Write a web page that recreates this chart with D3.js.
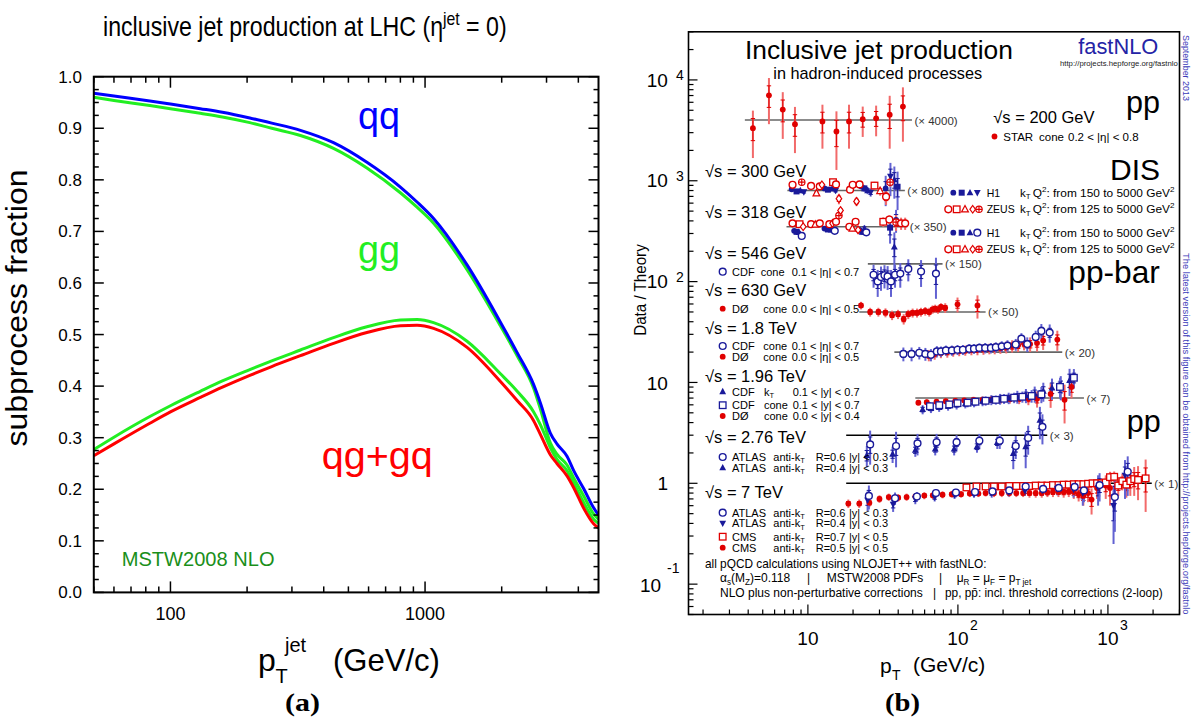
<!DOCTYPE html>
<html><head><meta charset="utf-8">
<script src="https://cdn.jsdelivr.net/npm/d3@7"></script>
<style>
body{margin:0;background:#fff}
svg{display:block}
text{font-family:"Liberation Sans",Arial,Helvetica,sans-serif}
</style>
</head><body>
<svg id="chart" width="1194" height="727"></svg>
<script>
// ================= LEFT PANEL DATA (subprocess fractions, LHC, eta=0) =================
const ptJet        = [50,60,83,100,131,160,205,250,324,437,591,800,930,1080,1462,1977,2300,2670,2840,3104,3296,3610,3836,4200,4592,4800];
const curveQQ      = [0.968,0.9625,0.953,0.947,0.938,0.931,0.920,0.910,0.896,0.872,0.834,0.786,0.757,0.725,0.635,0.524,0.465,0.403,0.367,0.309,0.288,0.264,0.236,0.201,0.164,0.150];
const curveGGtop   = [0.960,0.954,0.944,0.938,0.929,0.922,0.911,0.900,0.886,0.861,0.823,0.775,0.747,0.716,0.626,0.517,0.459,0.396,0.355,0.290,0.268,0.247,0.222,0.187,0.152,0.142];
const curveGGlow   = [0.277,0.301,0.341,0.362,0.390,0.410,0.432,0.449,0.470,0.494,0.515,0.528,0.529,0.523,0.487,0.424,0.390,0.350,0.325,0.281,0.258,0.236,0.212,0.174,0.142,0.134];
const curveQG      = [0.265,0.288,0.328,0.350,0.378,0.398,0.421,0.438,0.459,0.483,0.504,0.517,0.518,0.512,0.475,0.409,0.372,0.333,0.306,0.267,0.250,0.226,0.203,0.163,0.133,0.125];
const leftYTicks   = [0,0.1,0.2,0.3,0.4,0.5,0.6,0.7,0.8,0.9,1.0];
const leftXLabels  = [100,1000];

// ================= RIGHT PANEL DATA: [pT, data/theory, total error, (bin)] =================
const star200 = [[4.3,0.83,0.41],[5.5,1.76,0.85],[6.8,1.27,0.62],[8.2,0.91,0.44],[12.5,0.97,0.45],[15.5,0.77,0.45],[18.8,0.97,0.45],[23.2,1.02,0.34],[28.5,1.04,0.35],[35.1,1.13,0.61],[43.0,1.36,0.75]];
const h1dis300 = [[7.8,1.03,0.04,0],[8.4,0.98,0.04,1],[8.9,1.0,0.04,2],[9.4,0.97,0.05,3],[12.9,1.05,0.05,0],[13.6,1.02,0.05,1],[14.5,1.04,0.05,2],[15.3,1.0,0.06,3],[22.6,1.1,0.07,0],[23.8,1.05,0.08,1],[25.0,1.0,0.08,2],[26.2,0.96,0.09,3],[33.0,1.05,0.35,0],[35.5,1.38,0.5,3],[37.7,1.28,0.45,2],[39.6,1.09,0.45,1]];
const zeusDis300 = [[7.9,1.14,0.05,0],[9.1,1.21,0.1,4],[10.5,1.11,0.05,0],[11.4,0.94,0.05,2],[12.0,1.10,0.05,0],[12.4,1.14,0.06,3],[14.7,1.21,0.08,1],[15.4,1.15,0.06,0],[16.1,0.83,0.1,3],[19.1,1.02,0.06,0],[19.9,1.14,0.07,0],[21.1,0.78,0.08,3],[22.1,1.15,0.08,0],[27.8,1.12,0.1,1],[30.3,0.99,0.1,2],[33.2,0.87,0.15,0],[35.3,1.21,0.12,4]];
const h1dis318 = [[8.1,0.91,0.04,0],[8.4,0.89,0.04,1],[8.7,0.88,0.04,2],[9.1,0.81,0.05,3],[12.9,0.96,0.04,0],[13.6,0.94,0.04,1],[14.3,0.93,0.05,2],[15.1,0.91,0.05,3],[22.1,0.93,0.06,0],[23.0,0.89,0.06,1],[23.8,0.96,0.07,2],[24.5,0.88,0.07,3],[35.3,0.98,0.3,1],[37.7,0.63,0.25,2],[38.7,1.17,0.3,0]];
const zeusDis318 = [[7.9,1.08,0.04,0],[8.8,1.06,0.04,1],[9.3,1.0,0.05,3],[10.5,1.06,0.04,0],[11.2,1.05,0.04,2],[12.0,1.08,0.05,0],[13.9,1.06,0.05,0],[14.6,1.08,0.05,3],[15.4,1.12,0.06,0],[16.1,1.29,0.1,4],[16.5,1.45,0.1,3],[18.9,1.0,0.06,0],[19.8,0.96,0.06,2],[20.8,1.12,0.07,0],[21.6,0.93,0.07,3],[31.8,1.12,0.12,1],[34.9,1.18,0.12,0],[38.7,1.11,0.2,4],[41.8,1.08,0.15,0],[44.5,1.08,0.15,0]];
const cdf546 = [[27.4,0.78,0.2],[29.2,0.67,0.2],[30.7,0.74,0.2],[32.4,0.77,0.2],[34.0,0.75,0.2],[35.8,0.67,0.2],[38.1,0.78,0.2],[41.3,0.80,0.22],[46.7,0.89,0.22],[56.8,0.84,0.25],[71.4,0.80,0.35]];
const d0630 = [[22.6,1.16,0.1],[26.0,1.0,0.1],[29.5,1.0,0.1],[32.9,0.985,0.1],[36.4,0.93,0.1],[39.9,0.95,0.1],[43.5,0.85,0.1],[46.7,0.95,0.1],[49.9,0.98,0.1],[53.4,0.98,0.1],[56.7,1.0,0.1],[60.6,1.02,0.1],[64.4,1.0,0.1],[67.8,1.06,0.1],[70.6,1.08,0.1],[73.6,1.06,0.1],[77.1,1.12,0.1],[82.3,1.10,0.12],[99.4,1.19,0.2],[135,1.16,0.3]];
const cdfTev18 = [[43.3,0.96,0.15],[49.1,0.96,0.15],[55.3,0.985,0.14],[60.7,0.96,0.14],[66.1,0.94,0.13],[72.4,1.015,0.13],[77.1,1.015,0.12],[83.2,1.04,0.12],[91.2,1.04,0.12],[99.4,1.055,0.12],[108,1.055,0.12],[119,1.08,0.12],[128,1.08,0.12],[139,1.10,0.12],[152,1.10,0.13],[166,1.10,0.13],[179,1.12,0.13],[196,1.14,0.14],[214,1.16,0.15],[243,1.19,0.16],[265,1.36,0.18],[290,1.2,0.2],[330,1.41,0.22],[360,1.62,0.28],[409,1.56,0.32]];
const d0Tev18 = [[64,0.93,0.12],[70,0.96,0.12],[77,0.99,0.12],[85,1.0,0.12],[93,1.02,0.12],[102,1.03,0.12],[112,1.04,0.12],[123,1.05,0.12],[135,1.06,0.13],[148,1.07,0.13],[162,1.08,0.13],[176,1.09,0.14],[192,1.1,0.14],[210,1.12,0.15],[230,1.15,0.16],[252,1.17,0.17],[276,1.22,0.18],[303,1.2,0.2],[337,1.23,0.22],[370,1.3,0.25],[460,1.33,0.3]];
const cdfKt196 = [[58.2,0.77,0.08],[66.1,0.79,0.08],[75,0.81,0.08],[86,0.83,0.08],[98,0.86,0.09],[112,0.88,0.09],[128,0.91,0.1],[146,0.93,0.1],[167,0.96,0.11],[191,0.98,0.12],[218,1.0,0.13],[249,1.03,0.15],[284,1.06,0.17],[325,1.1,0.2],[371,1.17,0.25],[424,1.26,0.3],[485,1.3,0.35],[555,1.5,0.45]];
const cdfCone196 = [[65.1,0.83,0.08],[75.1,0.85,0.08],[87.5,0.865,0.08],[99.4,0.89,0.08],[116,0.90,0.09],[131,0.92,0.09],[153,0.94,0.1],[179,0.96,0.1],[203,0.985,0.11],[237,1.01,0.12],[269,1.03,0.13],[310,1.05,0.15],[360,1.09,0.2],[479,1.29,0.3],[593,1.59,0.35]];
const d0Tev196 = [[54.5,0.90,0.06],[62,0.91,0.06],[72,0.92,0.06],[83,0.93,0.06],[96,0.94,0.07],[110,0.95,0.07],[127,0.96,0.07],[146,0.96,0.08],[168,0.97,0.08],[193,0.97,0.09],[222,0.98,0.1],[256,0.99,0.12],[295,0.99,0.14],[337,0.985,0.18],[415,1.1,0.3],[514,0.96,0.4],[572,1.29,0.3]];
const atlas06Tev276 = [[26.0,0.81,0.3],[38.7,0.78,0.3],[53.8,0.83,0.2],[72.1,0.85,0.18],[98,0.85,0.15],[139,0.88,0.15],[190,0.88,0.15],[243,0.78,0.2],[294,0.94,0.3],[366,1.21,0.4]];
const atlas04Tev276 = [[24.7,0.63,0.15],[36.7,0.65,0.12],[52,0.71,0.1],[70.6,0.73,0.1],[94.4,0.73,0.1],[134,0.77,0.1],[183,0.85,0.12],[234,0.66,0.2],[283,0.77,0.3],[352,1.41,0.5]];
const atlas06Tev7 = [[25.5,0.75,0.2],[38.1,0.71,0.1],[53.3,0.74,0.08],[71.4,0.80,0.07],[97,0.81,0.07],[130,0.82,0.07],[170,0.83,0.08],[220,0.85,0.08],[283,0.93,0.09],[370,0.88,0.1],[470,0.9,0.12],[600,0.92,0.15],[692,0.85,0.2],[880,0.96,0.3],[1112,0.73,0.4],[1355,1.3,0.55]];
const atlas04Tev7 = [[25,0.68,0.15],[37,0.62,0.1],[52,0.70,0.08],[70,0.73,0.07],[95,0.77,0.07],[128,0.79,0.07],[168,0.8,0.08],[218,0.82,0.08],[280,0.84,0.09],[365,0.85,0.1],[460,0.88,0.12],[590,0.87,0.15],[680,0.80,0.2],[860,0.9,0.3],[1090,0.6,0.35],[1300,1.2,0.5]];
const cms07Tev7 = [[114,0.91,0.05],[133,0.93,0.05],[153,0.93,0.05],[174,0.93,0.05],[196,0.93,0.05],[220,0.94,0.05],[245,0.94,0.05],[272,0.94,0.05],[300,0.94,0.05],[330,0.95,0.05],[362,0.95,0.05],[395,0.95,0.06],[430,0.96,0.06],[468,0.96,0.06],[507,0.97,0.06],[548,0.97,0.07],[592,0.98,0.07],[638,0.98,0.07],[686,0.98,0.08],[737,0.99,0.08],[790,1.0,0.09],[846,1.0,0.1],[905,1.0,0.1],[967,1.02,0.12],[1032,1.15,0.15],[1101,1.16,0.15],[1172,0.95,0.2],[1248,1.05,0.2],[1327,0.97,0.25],[1410,1.05,0.3],[1497,1.1,0.35],[1588,1.08,0.4],[1784,1.12,0.6]];
const cms05Tev7 = [[18.6,0.63,0.06],[22,0.63,0.06],[25.7,0.64,0.06],[30,0.70,0.06],[34.6,0.73,0.06],[40,0.72,0.06],[45.5,0.73,0.06],[52,0.74,0.06],[59.7,0.755,0.06],[68,0.76,0.06],[79,0.77,0.06],[91,0.78,0.06],[105,0.78,0.06],[120,0.79,0.06],[137,0.79,0.06],[153,0.8,0.06],[174,0.8,0.07],[196,0.8,0.07],[220,0.8,0.07],[245,0.8,0.07],[272,0.8,0.07],[300,0.8,0.08],[330,0.8,0.08],[362,0.8,0.08],[395,0.81,0.08],[430,0.82,0.09],[468,0.82,0.09],[507,0.82,0.1],[548,0.83,0.1],[592,0.82,0.12],[638,0.78,0.12],[686,0.75,0.15],[737,0.80,0.15],[778,0.69,0.2],[846,0.9,0.2],[967,0.95,0.25],[1032,0.9,0.3]];

// theory reference lines: scale factor and pT range
const refFactor = [4000, 800, 350, 150, 50, 20, 7, 3, 1];
const refFrom   = [3.8, 7.3, 7.2, 25.1, 22, 37.7, 52, 18, 18];
const refTo     = [49.4, 44.3, 46, 79, 153, 496, 692, 394, 1960];
const refLabel  = ["(× 4000)","(× 800)","(× 350)","(× 150)","(× 50)","(× 20)","(× 7)","(× 3)","(× 1)"];
const rightYDecades = [0.1, 1, 10, 100, 1000, 10000];
const rightXDecades = [10, 100, 1000];

// ================= DRAWING =================
const svg = d3.select('#chart');
const RED = '#e00000', REDL = '#f26a6a', BLUE = '#1a1a9a', BLUEL = '#6262d2';
const SERIF = '"Liberation Serif","DejaVu Serif","Times New Roman",serif';

function txt(g, x, y, s, size, opt={}) {
  const t = g.append('text').attr('x', x).attr('y', y).attr('font-size', size).text(s);
  if (opt.fill) t.attr('fill', opt.fill);
  if (opt.anchor) t.attr('text-anchor', opt.anchor);
  if (opt.family) t.style('font-family', opt.family);
  if (opt.weight) t.style('font-weight', opt.weight);
  return t;
}
function rich(g, x, y, size, parts, opt={}) {
  const t = g.append('text').attr('x', x).attr('y', y).attr('font-size', size);
  if (opt.fill) t.attr('fill', opt.fill);
  if (opt.anchor) t.attr('text-anchor', opt.anchor);
  let shift = 0;
  parts.forEach(p => {
    const ts = t.append('tspan');
    let target = 0, fs = size, s = p;
    if (Array.isArray(p)) { s = p[0]; fs = size*0.68; target = p[1]==='sub' ? size*0.2 : -size*0.42; }
    ts.attr('dy', target - shift).attr('font-size', fs).text(s);
    shift = target;
  });
  return t;
}
function fit(t, w) {
  const bb = t.node().getBBox();
  if (!bb.width) return t;
  const k = w / bb.width;
  const x = +t.attr('x') || 0;
  const prev = t.attr('transform') || '';
  t.attr('transform', prev + ` translate(${x*(1-k)},0) scale(${k},1)`);
  return t;
}

// ---------- LEFT PANEL ----------
const L = svg.append('g');
const xL = d3.scaleLog().domain([50, 4800]).range([93.8, 598.5]);
const yL = d3.scaleLinear().domain([0, 1]).range([592.4, 76.7]);
const [lx0, lx1] = xL.range(), [ly0, ly1] = yL.range();

L.append('clipPath').attr('id','clipL').append('rect')
  .attr('x', lx0).attr('y', ly1).attr('width', lx1-lx0).attr('height', ly0-ly1);

const curves = [
  {v: curveGGtop, c: '#22ee22'},
  {v: curveQQ, c: '#0000ff'},
  {v: curveGGlow, c: '#22ee22'},
  {v: curveQG, c: '#ff0000'}
];
const lineL = d3.line().x(d => xL(d[0])).y(d => yL(d[1])).curve(d3.curveMonotoneX);
curves.forEach(cv => {
  L.append('path').attr('clip-path','url(#clipL)')
    .attr('d', lineL(ptJet.map((p,i) => [p, cv.v[i]])))
    .attr('fill','none').attr('stroke', cv.c).attr('stroke-width', 3);
});

L.append('rect').attr('x', lx0).attr('y', ly1).attr('width', lx1-lx0).attr('height', ly0-ly1)
  .attr('fill','none').attr('stroke','#000').attr('stroke-width', 2);
d3.range(0, 1.0001, 0.025).forEach(v => {
  const major = Math.abs(v*10 - Math.round(v*10)) < 1e-6;
  const len = major ? 10 : 5;
  L.append('line').attr('x1', lx0).attr('x2', lx0+len).attr('y1', yL(v)).attr('y2', yL(v)).attr('stroke','#000').attr('stroke-width',1.5);
  L.append('line').attr('x1', lx1).attr('x2', lx1-len).attr('y1', yL(v)).attr('y2', yL(v)).attr('stroke','#000').attr('stroke-width',1.5);
});
const xTicksL = [];
[10,100,1000].forEach(d => d3.range(1,10).forEach(m => { const v = m*d; if (v >= 50 && v <= 4800) xTicksL.push(v); }));
xTicksL.forEach(v => {
  const major = (v === 100 || v === 1000);
  const len = major ? 11 : 6;
  L.append('line').attr('x1', xL(v)).attr('x2', xL(v)).attr('y1', ly0).attr('y2', ly0-len).attr('stroke','#000').attr('stroke-width',1.5);
  L.append('line').attr('x1', xL(v)).attr('x2', xL(v)).attr('y1', ly1).attr('y2', ly1+len).attr('stroke','#000').attr('stroke-width',1.5);
});
leftYTicks.forEach(v => txt(L, 82, yL(v)+6, d3.format('.1f')(v), 17, {anchor:'end'}));
leftXLabels.forEach(v => txt(L, xL(v), 620, String(v), 18, {anchor:'middle'}));

const tl = rich(L, 103, 36.4, 28, ['inclusive jet production at LHC (η', ['jet','sup'], ' = 0)']);
fit(tl, 404);
const yl = L.append('g').attr('transform','translate(27,308) rotate(-90)');
fit(txt(yl, 0, 0, 'subprocess fraction', 30, {anchor:'middle'}), 277);
txt(L, 258, 671, 'p', 32);
txt(L, 275.5, 683, 'T', 20);
txt(L, 285, 652, 'jet', 20);
fit(txt(L, 333, 671, '(GeV/c)', 31), 107);
fit(txt(L, 358, 129, 'qq', 38, {fill:'#0000ff'}), 42);
fit(txt(L, 358, 263, 'gg', 38, {fill:'#22ee22'}), 42);
fit(txt(L, 321.7, 469, 'qg+gq', 38, {fill:'#ff0000'}), 111);
fit(txt(L, 121.7, 566, 'MSTW2008 NLO', 20, {fill:'#1a8f1a'}), 153);
fit(txt(L, 285, 711, '(a)', 25, {family:SERIF, weight:'bold'}), 35);

// ---------- RIGHT PANEL ----------
const R = svg.append('g');
const xR = d3.scaleLog().domain([1.6, 3000]).range([688.5, 1179.5]);
const yR = d3.scaleLog().domain([0.05, 30000]).range([614.5, 31.8]);
const [rx0, rx1] = xR.range(), [ry0, ry1] = yR.range();

R.append('rect').attr('x', rx0).attr('y', ry1).attr('width', rx1-rx0).attr('height', ry0-ry1)
  .attr('fill','none').attr('stroke','#000').attr('stroke-width', 1.6);
[0.01,0.1,1,10,100,1000,10000].forEach(d => d3.range(1,10).forEach(m => {
  const v = m*d; if (v < 0.05 || v > 30000) return;
  const len = m === 1 ? 9 : 5;
  R.append('line').attr('x1', rx0).attr('x2', rx0+len).attr('y1', yR(v)).attr('y2', yR(v)).attr('stroke','#000').attr('stroke-width',1.2);
}));
[1,10,100,1000].forEach(d => d3.range(1,10).forEach(m => {
  const v = m*d; if (v < 1.6 || v > 3000) return;
  const len = m === 1 ? 10 : 5;
  R.append('line').attr('x1', xR(v)).attr('x2', xR(v)).attr('y1', ry0).attr('y2', ry0-len).attr('stroke','#000').attr('stroke-width',1.2);
}));
rightYDecades.forEach(v => {
  const y = yR(v), e = Math.round(Math.log10(v));
  if (e >= 2) { txt(R, 646.7, y+6.7, '10', 19); txt(R, 676, y+0.5, String(e), 14); }
  else if (e === 1) txt(R, 646.7, y+8, '10', 19);
  else if (e === 0) txt(R, 657.5, y+7, '1', 19);
  else { txt(R, 640, y+8, '10', 19); txt(R, 667, y-11, String(e), 14); }
});
rightXDecades.forEach(v => {
  const x = xR(v), e = Math.round(Math.log10(v));
  txt(R, x, 645, '10', 19, {anchor:'middle'});
  if (e > 1) txt(R, x+12, 630, String(e), 14);
});
const dt = R.append('g').attr('transform','translate(646,290) rotate(-90)');
fit(txt(dt, 0, 0, 'Data / Theory', 17, {anchor:'middle'}), 92);
txt(R, 880, 673, 'p', 21);
txt(R, 892, 680, 'T', 14);
txt(R, 913, 672, '(GeV/c)', 21);
fit(txt(R, 885, 711, '(b)', 25, {family:SERIF, weight:'bold'}), 35);

refFactor.forEach((f, i) => {
  const dark = f <= 3;
  R.append('line').attr('x1', xR(refFrom[i])).attr('x2', xR(refTo[i])).attr('y1', yR(f)).attr('y2', yR(f))
    .attr('stroke', dark ? '#000' : '#666').attr('stroke-width', 1.6);
  txt(R, xR(refTo[i]) + 2.5, yR(f) + 4.5, refLabel[i], 11.5, {fill:'#333'});
});

function marker(g, type, x, y, col) {
  switch (type) {
    case 'fc': g.append('circle').attr('cx',x).attr('cy',y).attr('r',2.9).attr('fill',col); break;
    case 'oc': g.append('circle').attr('cx',x).attr('cy',y).attr('r',3.4).attr('fill','#fff').attr('stroke',col).attr('stroke-width',1.4); break;
    case 'fs': g.append('rect').attr('x',x-3).attr('y',y-3).attr('width',6).attr('height',6).attr('fill',col); break;
    case 'os': g.append('rect').attr('x',x-3.3).attr('y',y-3.3).attr('width',6.6).attr('height',6.6).attr('fill','#fff').attr('stroke',col).attr('stroke-width',1.3); break;
    case 'ft': g.append('path').attr('d',`M${x},${y-3.8}L${x+3.4},${y+2.6}L${x-3.4},${y+2.6}Z`).attr('fill',col); break;
    case 'ot': g.append('path').attr('d',`M${x},${y-3.8}L${x+3.4},${y+2.6}L${x-3.4},${y+2.6}Z`).attr('fill','#fff').attr('stroke',col).attr('stroke-width',1.2); break;
    case 'fd': g.append('path').attr('d',`M${x},${y+3.8}L${x+3.4},${y-2.6}L${x-3.4},${y-2.6}Z`).attr('fill',col); break;
    case 'od': g.append('path').attr('d',`M${x},${y-3.8}L${x+2.8},${y}L${x},${y+3.8}L${x-2.8},${y}Z`).attr('fill','#fff').attr('stroke',col).attr('stroke-width',1.2); break;
    case 'ox':
      g.append('circle').attr('cx',x).attr('cy',y).attr('r',3.2).attr('fill','#fff').attr('stroke',col).attr('stroke-width',1.2);
      g.append('path').attr('d',`M${x-3.2},${y}H${x+3.2}M${x},${y-3.2}V${y+3.2}`).attr('stroke',col).attr('stroke-width',1.2);
      break;
  }
}

const sets = [
  {d: star200, f: 4000, c: 'r', sym: ['fc']},
  {d: h1dis300, f: 800, c: 'b', sym: ['fc','fs','ft','fd']},
  {d: zeusDis300, f: 800, c: 'r', sym: ['oc','os','ot','od','ox']},
  {d: h1dis318, f: 350, c: 'b', sym: ['fc','fs','ft','oc']},
  {d: zeusDis318, f: 350, c: 'r', sym: ['oc','os','ot','od','ox']},
  {d: cdf546, f: 150, c: 'b', sym: ['oc']},
  {d: d0630, f: 50, c: 'r', sym: ['fc']},
  {d: d0Tev18, f: 20, c: 'r', sym: ['fc']},
  {d: cdfTev18, f: 20, c: 'b', sym: ['oc']},
  {d: d0Tev196, f: 7, c: 'r', sym: ['fc']},
  {d: cdfKt196, f: 7, c: 'b', sym: ['ft']},
  {d: cdfCone196, f: 7, c: 'b', sym: ['os']},
  {d: atlas04Tev276, f: 3, c: 'b', sym: ['ft']},
  {d: atlas06Tev276, f: 3, c: 'b', sym: ['oc']},
  {d: cms05Tev7, f: 1, c: 'r', sym: ['fc']},
  {d: cms07Tev7, f: 1, c: 'r', sym: ['os']},
  {d: atlas04Tev7, f: 1, c: 'b', sym: ['fd']},
  {d: atlas06Tev7, f: 1, c: 'b', sym: ['oc']}
];
const EB = R.append('g'), MK = R.append('g');
sets.forEach(s => {
  const col = s.c === 'r' ? RED : BLUE, colL = s.c === 'r' ? REDL : BLUEL;
  s.d.forEach(p => {
    const [pt, r, e] = p;
    const x = xR(pt);
    const lo = Math.max(r - e, r*0.08), st = e*0.5;
    EB.append('line').attr('x1',x).attr('x2',x).attr('y1',yR(lo*s.f)).attr('y2',yR((r+e)*s.f))
      .attr('stroke',colL).attr('stroke-width',2);
    const sl = yR(Math.max(r - st, r*0.1)*s.f), sh = yR((r+st)*s.f);
    EB.append('path').attr('d',`M${x},${sl}V${sh}M${x-2.2},${sl}H${x+2.2}M${x-2.2},${sh}H${x+2.2}`)
      .attr('stroke',col).attr('stroke-width',1).attr('fill','none');
  });
});
sets.forEach(s => {
  const col = s.c === 'r' ? RED : BLUE;
  s.d.forEach(p => marker(MK, s.sym[p[3] || 0], xR(p[0]), yR(p[1]*s.f), col));
});

fit(txt(R, 745, 59.3, 'Inclusive jet production', 26), 268);
fit(txt(R, 773.3, 79.3, 'in hadron-induced processes', 16), 209);
fit(txt(R, 1078.3, 54.5, 'fastNLO', 22, {fill:'#2424a6'}), 80);
fit(txt(R, 1060, 66.5, 'http://projects.hepforge.org/fastnlo', 7.5, {fill:'#222'}), 118);
const v1 = R.append('g').attr('transform','translate(1183,35) rotate(90)');
fit(txt(v1, 0, 0, 'September 2013', 9.5, {fill:'#3a3ab8'}), 66);
const v2 = R.append('g').attr('transform','translate(1183,253) rotate(90)');
fit(txt(v2, 0, 0, 'The latest version of this figure can be obtained from http://projects.hepforge.org/fastnlo', 9.5, {fill:'#3a3ab8'}), 362);

fit(txt(R, 1126, 113, 'pp', 32), 34);
fit(txt(R, 1110, 180, 'DIS', 30), 50);
fit(txt(R, 1068.3, 283, 'pp-bar', 32), 92);
fit(txt(R, 1126.7, 432, 'pp', 32), 34);

const energyText = ['√s = 300 GeV','√s = 318 GeV','√s = 546 GeV','√s = 630 GeV','√s = 1.8 TeV','√s = 1.96 TeV','√s = 2.76 TeV','√s = 7 TeV'];
const energyY = [176.7, 218.3, 258.5, 296, 334.3, 381.7, 443.3, 498.3];
energyText.forEach((s,i) => txt(R, 705, energyY[i], s, 16.5));
txt(R, 993.3, 122.7, '√s = 200 GeV', 16.5);

const LS = 11;
function legRow(y, sym, col, pieces) {
  marker(R, sym, 722.7, y-4, col);
  pieces.forEach(p => { if (Array.isArray(p[1])) rich(R, p[0], y, LS, p[1]); else txt(R, p[0], y, p[1], LS); });
}
legRow(275.7, 'oc', BLUE, [[732,'CDF'],[760.7,'cone'],[791.7,'0.1 < |η| < 0.7']]);
legRow(312.7, 'fc', RED, [[732,'DØ'],[763.3,'cone'],[791.7,'0.0 < |η| < 0.5']]);
legRow(350, 'oc', BLUE, [[732,'CDF'],[763.3,'cone'],[791.7,'0.1 < |η| < 0.7']]);
legRow(360.7, 'fc', RED, [[732,'DØ'],[763.3,'cone'],[791.7,'0.0 < |η| < 0.5']]);
legRow(395.6, 'ft', BLUE, [[732,'CDF'],[764,['k',['T','sub']]],[792.7,'0.1 < |y| < 0.7']]);
legRow(409.2, 'os', BLUE, [[732,'CDF'],[764,'cone'],[792.7,'0.1 < |y| < 0.7']]);
legRow(420, 'fc', RED, [[732,'DØ'],[764,'cone'],[792.7,'0.0 < |y| < 0.4']]);
legRow(461, 'oc', BLUE, [[732,'ATLAS'],[773.3,['anti-k',['T','sub']]],[815.7,'R=0.6'],[849,'|y| < 0.3']]);
legRow(471.7, 'ft', BLUE, [[732,'ATLAS'],[773.3,['anti-k',['T','sub']]],[815.7,'R=0.4'],[849,'|y| < 0.3']]);
legRow(516.7, 'oc', BLUE, [[732,'ATLAS'],[773.3,['anti-k',['T','sub']]],[815.7,'R=0.6'],[849,'|y| < 0.3']]);
legRow(527.3, 'fd', BLUE, [[732,'ATLAS'],[773.3,['anti-k',['T','sub']]],[815.7,'R=0.4'],[849,'|y| < 0.3']]);
legRow(540.7, 'os', RED, [[732,'CMS'],[773.3,['anti-k',['T','sub']]],[815.7,'R=0.7'],[849,'|y| < 0.5']]);
legRow(551.7, 'fc', RED, [[732,'CMS'],[773.3,['anti-k',['T','sub']]],[815.7,'R=0.5'],[849,'|y| < 0.5']]);

marker(R, 'fc', 994.5, 136.5, RED);
txt(R, 1003.3, 140.7, 'STAR', 11.5); txt(R, 1039, 140.7, 'cone', 11.5); txt(R, 1068, 140.7, '0.2 < |η| < 0.8', 11.5);

function disRow(y, syms, col, xs, name, q) {
  syms.forEach((s,i) => marker(R, s, xs[i], y-4, col));
  txt(R, 986.7, y, name, 10.5);
  rich(R, 1020, y, 11.5, ['k', ['T','sub']]);
  fit(rich(R, 1032.7, y, 11.5, ['Q', ['2','sup'], ': from ' + q + ' to 5000 GeV', ['2','sup']]), 142);
}
const h1x = [953.3, 961.7, 970, 977.3], zx = [948.3, 956.7, 965, 972.7, 979];
disRow(196.7, ['fc','fs','ft','fd'], BLUE, h1x, 'H1', 150);
disRow(213.3, ['oc','os','ot','od','ox'], RED, zx, 'ZEUS', 125);
disRow(236.7, ['fc','fs','ft','oc'], BLUE, h1x, 'H1', 150);
disRow(253.3, ['oc','os','ot','od','ox'], RED, zx, 'ZEUS', 125);

fit(txt(R, 705, 568.3, 'all pQCD calculations using NLOJET++ with fastNLO:', 12), 282);
rich(R, 720, 582.3, 12, ['α', ['s','sub'], '(M', ['Z','sub'], ')=0.118']);
txt(R, 807, 582.3, '|', 12);
txt(R, 826.7, 582.3, 'MSTW2008 PDFs', 12);
txt(R, 939, 582.3, '|', 12);
rich(R, 956.7, 582.3, 12, ['μ', ['R','sub'], ' = μ', ['F','sub'], ' = p', ['T jet','sub']]);
txt(R, 720, 596.7, 'NLO plus non-perturbative corrections', 12);
txt(R, 933, 596.7, '|', 12);
fit(txt(R, 945, 596.7, 'pp, pp\u0304: incl. threshold corrections (2-loop)', 12), 218);
</script>
</body></html>
